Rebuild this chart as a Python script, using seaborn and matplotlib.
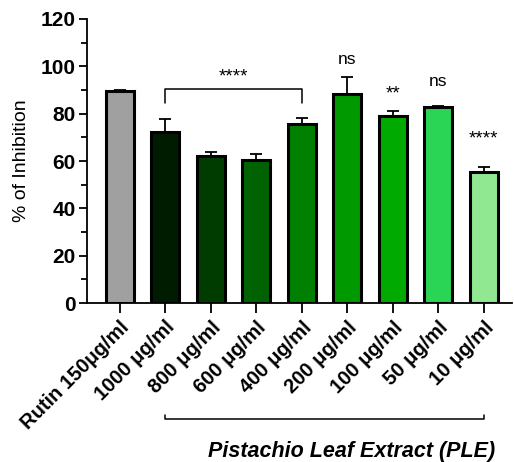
import matplotlib
matplotlib.use("Agg")
import matplotlib.pyplot as plt
import matplotlib.transforms as mtransforms
from matplotlib.ticker import MultipleLocator
import seaborn as sns
import numpy as np
import pandas as pd

categories = ["Rutin 150\u03bcg/ml", "1000 \u03bcg/ml", "800 \u03bcg/ml", "600 \u03bcg/ml",
              "400 \u03bcg/ml", "200 \u03bcg/ml", "100 \u03bcg/ml", "50 \u03bcg/ml", "10 \u03bcg/ml"]
values = [89.6, 72.1, 62.3, 60.6, 75.6, 88.4, 79.0, 82.8, 55.3]
errors = [0.5, 5.6, 1.5, 2.2, 2.4, 7.2, 2.3, 0.5, 2.0]
colors = ["#a0a0a0", "#001c00", "#003c00", "#006200", "#008000",
          "#009a00", "#00aa00", "#2ad455", "#90e890"]
sig_labels = ["", "", "", "", "", "ns", "**", "ns", "****"]
sig_heights = [0, 0, 0, 0, 0, 103, 88.5, 93.5, 69.5]

sns.set_style("ticks")
plt.rcParams['font.family'] = ['Liberation Sans', 'DejaVu Sans']
for k in ["text.color", "axes.labelcolor", "xtick.color", "ytick.color", "axes.edgecolor"]:
    plt.rcParams[k] = "black"

fig = plt.figure(figsize=(5.14, 4.62), dpi=100)
ax = fig.add_axes([0.169, 0.344, 0.827, 0.615])

df = pd.DataFrame({"cat": categories, "val": values})
sns.barplot(data=df, x="cat", y="val", hue="cat", palette=colors, legend=False,
            saturation=1, edgecolor="black", linewidth=2.2, width=0.62,
            errorbar=None, ax=ax)

xs = np.arange(len(categories))
ax.errorbar(xs, values, yerr=[np.zeros(len(errors)), errors], fmt="none",
            ecolor="black", elinewidth=1.3, capsize=4.5, capthick=1.3, zorder=1)

ax.set_ylim(0, 120)
ax.set_xlim(-0.72, 8.62)
ax.yaxis.set_major_locator(MultipleLocator(20))
ax.yaxis.set_minor_locator(MultipleLocator(10))
ax.set_ylabel("% of Inhibition", fontsize=14, labelpad=8)
ax.set_xlabel("")
for s in ["top", "right"]:
    ax.spines[s].set_visible(False)
for s in ["left", "bottom"]:
    ax.spines[s].set_linewidth(1.3)
ax.tick_params(axis="y", which="major", length=6, width=1.3, labelsize=15, pad=2)
ax.tick_params(axis="y", which="minor", length=4, width=1.3)
ax.tick_params(axis="x", length=7, width=1.3, labelsize=14.5)
for lab in ax.get_yticklabels():
    lab.set_fontweight("bold")
ax.set_xticks(xs)
ax.set_xticklabels(categories, rotation=45, ha="right", rotation_mode="anchor",
                   fontweight="bold")

# significance labels
for x, lab, h in zip(xs, sig_labels, sig_heights):
    if lab:
        ax.text(x, h, lab, ha="center", va="center",
                fontsize=12.5 if lab == "ns" else 13.5)

# bracket 1000-400
ax.plot([1, 1, 4, 4], [84.5, 90.5, 90.5, 84.5], color="black", lw=1.1, clip_on=False)
ax.text(2.5, 95.5, "****", ha="center", va="center", fontsize=13.5)

# bottom bracket
trans = mtransforms.blended_transform_factory(ax.transData, ax.transAxes)
ax.plot([1, 1, 8, 8], [-0.393, -0.408, -0.408, -0.393], color="black", lw=1.1,
        transform=trans, clip_on=False)
ax.text(5.1, -0.522, "Pistachio Leaf Extract (PLE)", transform=trans, ha="center",
        va="center", fontsize=15.5, fontweight="bold", fontstyle="italic")

fig.savefig("out.png", dpi=100)
